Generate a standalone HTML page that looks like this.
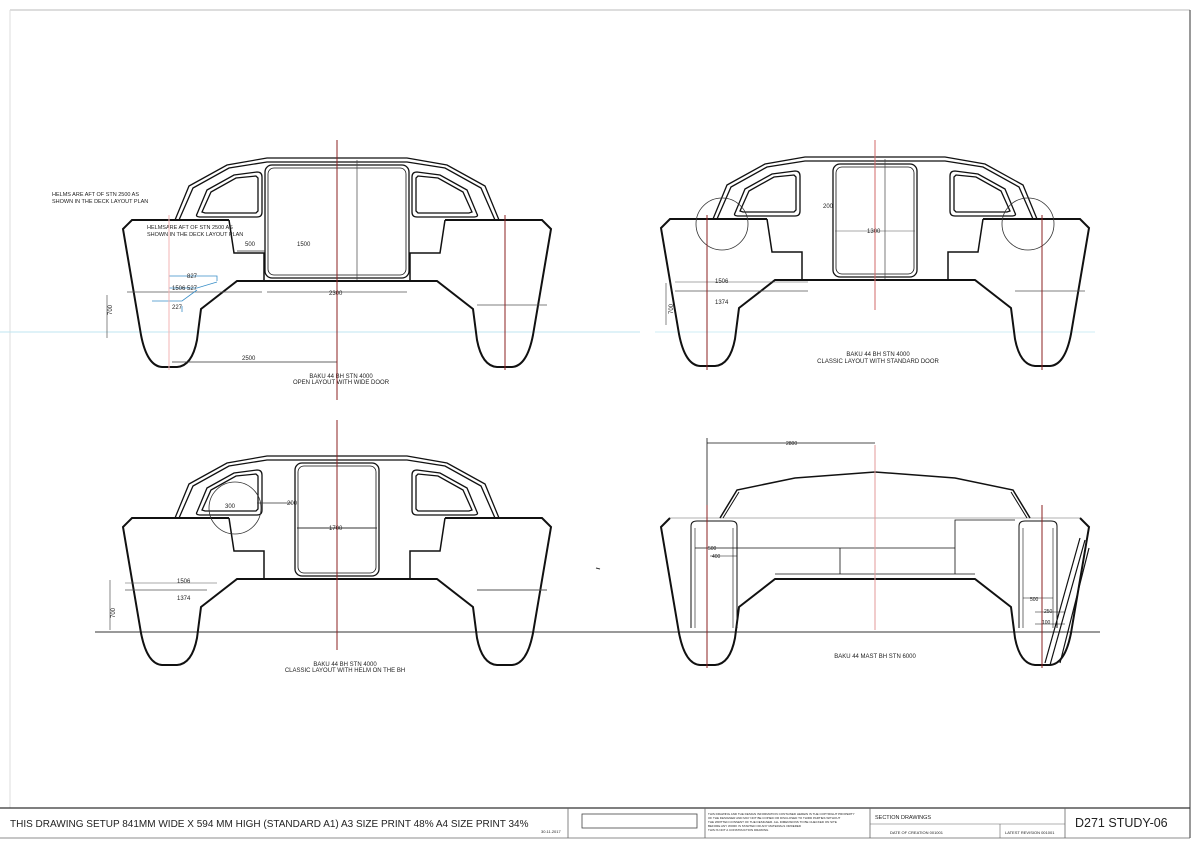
<!DOCTYPE html>
<html><head><meta charset="utf-8"><style>
html,body{margin:0;padding:0;background:#fff;}
svg{display:block;}
text{font-family:"Liberation Sans",sans-serif;fill:#222;}
</style></head><body>
<svg width="1200" height="843" viewBox="0 0 1200 843" xmlns="http://www.w3.org/2000/svg">
<defs>
<g id="hull" fill="none" stroke="#111" stroke-width="2">
  <path d="M -108 0 L -205 0 L -214 9 L -196 115 Q -190 146 -175 147 L -160 147 Q -145 146 -140 120 L -136 89 L -100 61 L 100 61 L 136 89 L 140 120 Q 145 146 160 147 L 175 147 Q 190 146 196 115 L 214 9 L 205 0 L 108 0"/>
  <path d="M -108 0 L -103 33 L -73 33 L -73 61 M 108 0 L 103 33 L 73 33 L 73 61" stroke-width="1.5"/>
</g>
<g id="cabin" fill="none" stroke="#111" stroke-width="1.3">
  <path d="M -162 0 L -148 -34 L -110 -55 L -70 -62 L 70 -62 L 110 -55 L 148 -34 L 162 0"/>
  <path d="M -158 0 L -144 -32 L -108 -52 L -70 -58 L 70 -58 L 108 -52 L 144 -32 L 158 0"/>
  <path d="M -140 -6 L -130 -30 L -103 -45 L -80 -48 Q -75 -48 -75 -43 L -75 -8 Q -75 -3 -80 -3 L -136 -3 Q -142 -3 -140 -6 Z"/>
  <path d="M -135 -8 L -126 -28 L -101 -42 L -81 -44 L -79 -42 L -79 -9 L -81 -7 L -132 -7 Z"/>
  <path d="M 140 -6 L 130 -30 L 103 -45 L 80 -48 Q 75 -48 75 -43 L 75 -8 Q 75 -3 80 -3 L 136 -3 Q 142 -3 140 -6 Z"/>
  <path d="M 135 -8 L 126 -28 L 101 -42 L 81 -44 L 79 -42 L 79 -9 L 81 -7 L 132 -7 Z"/>
</g>
</defs>

<line x1="10" y1="10" x2="1190" y2="10" stroke="#bbb" stroke-width="1"/>
<line x1="1190" y1="10" x2="1190" y2="838" stroke="#333" stroke-width="1"/>
<line x1="10" y1="10" x2="10" y2="808" stroke="#ddd" stroke-width="1"/>

<line x1="0" y1="332" x2="640" y2="332" stroke="#bfe6f0" stroke-width="1"/>
<line x1="655" y1="332" x2="1095" y2="332" stroke="#cfeef5" stroke-width="1"/>
<line x1="95" y1="632" x2="1100" y2="632" stroke="#333" stroke-width="1"/>

<!-- TL -->
<g transform="translate(337,220)">
  <use href="#hull"/>
  <use href="#cabin"/>
  <rect x="-72" y="-55" width="144" height="113" rx="7" fill="none" stroke="#111" stroke-width="1.3"/>
  <rect x="-69" y="-52" width="138" height="107" rx="6" fill="none" stroke="#111" stroke-width="0.8"/>
  <line x1="-210" y1="72" x2="-75" y2="72" stroke="#555" stroke-width="0.8"/>
  <line x1="140" y1="85" x2="210" y2="85" stroke="#555" stroke-width="0.8"/>
  <line x1="-70" y1="72" x2="70" y2="72" stroke="#555" stroke-width="0.8"/>
  <line x1="20" y1="-60" x2="20" y2="60" stroke="#444" stroke-width="0.7"/>
  <line x1="-165" y1="142" x2="0" y2="142" stroke="#333" stroke-width="0.8"/>
  <line x1="-230" y1="75" x2="-230" y2="118" stroke="#555" stroke-width="0.7"/>
  <line x1="-100" y1="31" x2="-72" y2="31" stroke="#333" stroke-width="0.8"/>
  <g stroke="#3a8fc8" stroke-width="0.8" fill="none">
    <path d="M -168 56 L -120 56 L -120 61"/><path d="M -168 68 L -140 68 L -120 62"/><path d="M -185 81 L -155 81 L -140 70"/><path d="M -155 86 L -155 92"/>
  </g>
  <text x="-92" y="26" font-size="6">500</text>
  <text x="-40" y="26" font-size="6">1500</text>
  <text x="-8" y="75" font-size="6">2300</text>
  <text x="-95" y="140" font-size="6">2500</text>
  <text x="-165" y="70" font-size="6">1506</text>
  <text x="-150" y="58" font-size="6" fill="#3a8fc8">827</text>
  <text x="-150" y="70" font-size="6" fill="#3a8fc8">527</text>
  <text x="-165" y="89" font-size="6" fill="#3a8fc8">227</text>
  <text x="-225" y="95" font-size="6" transform="rotate(-90 -225 95)">700</text>
  <text x="-190" y="9" font-size="5.5">HELMSARE AFT OF STN 2500 AS</text>
  <text x="-190" y="16" font-size="5.5">SHOWN IN THE DECK LAYOUT PLAN</text>
</g>
<text x="52" y="196" font-size="5.5">HELMS ARE AFT OF STN 2500 AS</text>
<text x="52" y="203" font-size="5.5">SHOWN IN THE DECK LAYOUT PLAN</text>
<text x="341" y="378" font-size="6" text-anchor="middle">BAKU 44 BH STN 4000</text>
<text x="341" y="384" font-size="6" text-anchor="middle">OPEN LAYOUT WITH WIDE DOOR</text>
<line x1="337" y1="140" x2="337" y2="400" stroke="#8b2020" stroke-width="1"/>
<line x1="505" y1="215" x2="505" y2="370" stroke="#8b2020" stroke-width="1"/>
<line x1="169" y1="215" x2="169" y2="370" stroke="#f3b5b5" stroke-width="1"/>

<!-- TR -->
<g transform="translate(875,219)">
  <use href="#hull"/>
  <use href="#cabin"/>
  <rect x="-42" y="-55" width="84" height="113" rx="7" fill="none" stroke="#111" stroke-width="1.3"/>
  <rect x="-39" y="-52" width="78" height="107" rx="6" fill="none" stroke="#111" stroke-width="0.8"/>
  <circle cx="-153" cy="5" r="26" fill="none" stroke="#333" stroke-width="0.8"/>
  <circle cx="153" cy="5" r="26" fill="none" stroke="#333" stroke-width="0.8"/>
  <line x1="-200" y1="72" x2="-67" y2="72" stroke="#555" stroke-width="0.8"/>
  <line x1="-200" y1="63" x2="-67" y2="63" stroke="#555" stroke-width="0.6"/>
  <line x1="140" y1="72" x2="210" y2="72" stroke="#555" stroke-width="0.8"/>
  <line x1="-40" y1="12" x2="40" y2="12" stroke="#555" stroke-width="0.6"/>
  <line x1="10" y1="-60" x2="10" y2="60" stroke="#444" stroke-width="0.7"/>
  <line x1="-209" y1="64" x2="-209" y2="106" stroke="#555" stroke-width="0.7"/>
  <text x="-160" y="64" font-size="6">1506</text>
  <text x="-160" y="85" font-size="6">1374</text>
  <text x="-8" y="14" font-size="6">1300</text>
  <text x="-52" y="-11" font-size="6">200</text>
  <text x="-202" y="95" font-size="6" transform="rotate(-90 -202 95)">700</text>
</g>
<text x="878" y="356" font-size="6" text-anchor="middle">BAKU 44 BH STN 4000</text>
<text x="878" y="363" font-size="6" text-anchor="middle">CLASSIC LAYOUT WITH STANDARD DOOR</text>
<line x1="875" y1="140" x2="875" y2="310" stroke="#d26a6a" stroke-width="1"/>
<line x1="707" y1="215" x2="707" y2="370" stroke="#8b2020" stroke-width="1"/>
<line x1="1042" y1="215" x2="1042" y2="370" stroke="#8b2020" stroke-width="1"/>

<!-- BL -->
<g transform="translate(337,518)">
  <use href="#hull"/>
  <use href="#cabin"/>
  <rect x="-42" y="-55" width="84" height="113" rx="7" fill="none" stroke="#111" stroke-width="1.3"/>
  <rect x="-39" y="-52" width="78" height="107" rx="6" fill="none" stroke="#111" stroke-width="0.8"/>
  <circle cx="-102" cy="-10" r="26" fill="none" stroke="#333" stroke-width="0.8"/>
  <line x1="-80" y1="-15" x2="-45" y2="-15" stroke="#333" stroke-width="0.8"/>
  <line x1="-40" y1="10" x2="40" y2="10" stroke="#333" stroke-width="0.9"/>
  <line x1="-212" y1="72" x2="-130" y2="72" stroke="#555" stroke-width="0.8"/>
  <line x1="-212" y1="65" x2="-120" y2="65" stroke="#555" stroke-width="0.6"/>
  <line x1="140" y1="72" x2="210" y2="72" stroke="#555" stroke-width="1"/>
  <line x1="-227" y1="62" x2="-227" y2="112" stroke="#555" stroke-width="0.7"/>
  <text x="-112" y="-10" font-size="6">300</text>
  <text x="-50" y="-13" font-size="6">200</text>
  <text x="-8" y="12" font-size="6">1700</text>
  <text x="-160" y="65" font-size="6">1506</text>
  <text x="-160" y="82" font-size="6">1374</text>
  <text x="-222" y="100" font-size="6" transform="rotate(-90 -222 100)">700</text>
</g>
<text x="345" y="666" font-size="6" text-anchor="middle">BAKU 44 BH STN 4000</text>
<text x="345" y="672" font-size="6" text-anchor="middle">CLASSIC LAYOUT WITH HELM ON THE BH</text>
<line x1="337" y1="420" x2="337" y2="650" stroke="#8b2020" stroke-width="1"/>
<line x1="596" y1="568" x2="600" y2="569" stroke="#333" stroke-width="1"/>

<!-- BR -->
<g transform="translate(875,518)" fill="none" stroke="#111">
  <path d="M -205 0 L -214 9 L -196 115 Q -190 146 -175 147 L -160 147 Q -145 146 -140 120 L -136 89 L -100 61 L 100 61 L 136 89 L 140 120 Q 145 146 160 147 L 175 147 Q 190 146 196 115 L 214 9 L 205 0" stroke-width="2"/>
  <line x1="-205" y1="0" x2="205" y2="0" stroke="#999" stroke-width="0.8"/>
  <path d="M -155 0 L -138 -28 L -80 -40 L 0 -46 L 80 -40 L 138 -28 L 155 0" stroke-width="1.5"/>
  <path d="M -152 0 L -136 -26 M 152 0 L 136 -26" stroke-width="1"/>
  <path d="M -184 110 L -184 8 Q -184 3 -178 3 L -144 3 Q -138 3 -138 8 L -138 110" stroke-width="1"/>
  <path d="M -180 110 L -180 10 M -142 10 L -142 110" stroke-width="0.6"/>
  <path d="M 144 110 L 144 8 Q 144 3 150 3 L 176 3 Q 182 3 182 8 L 182 110" stroke-width="1"/>
  <path d="M 148 110 L 148 10 M 178 10 L 178 110" stroke-width="0.6"/>
  <path d="M 205 20 L 170 145 M 210 22 L 175 147 M 214 30 L 185 145" stroke-width="1.2"/>
  <line x1="-180" y1="30" x2="80" y2="30" stroke-width="0.8"/>
  <line x1="-100" y1="56" x2="100" y2="56" stroke-width="0.8"/>
  <line x1="-35" y1="30" x2="-35" y2="56" stroke-width="0.8"/>
  <path d="M 80 56 L 80 2 L 140 2" stroke-width="0.8"/>
  <line x1="-168" y1="-75" x2="0" y2="-75" stroke-width="0.8"/>
  <line x1="-168" y1="-80" x2="-168" y2="-2" stroke-width="0.8"/>
  <line x1="-165" y1="38" x2="-138" y2="38" stroke-width="0.6"/>
  <line x1="148" y1="80" x2="178" y2="80" stroke-width="0.6"/>
  <line x1="160" y1="94" x2="190" y2="94" stroke-width="0.6"/>
  <line x1="160" y1="106" x2="190" y2="106" stroke-width="0.6"/>
</g>
<g font-size="5">
<text x="786" y="445">2800</text>
<text x="708" y="550">500</text>
<text x="712" y="558">400</text>
<text x="1030" y="601">500</text>
<text x="1044" y="613">250</text>
<text x="1042" y="624">100</text>
</g>
<text x="875" y="658" font-size="6" text-anchor="middle">BAKU 44 MAST BH STN 6000</text>
<line x1="875" y1="445" x2="875" y2="630" stroke="#e39a9a" stroke-width="1"/>
<line x1="707" y1="505" x2="707" y2="668" stroke="#8b2020" stroke-width="1"/>
<line x1="1042" y1="505" x2="1042" y2="668" stroke="#8b2020" stroke-width="1"/>

<!-- title block -->
<line x1="0" y1="808" x2="1190" y2="808" stroke="#333" stroke-width="1.2"/>
<line x1="0" y1="838" x2="1190" y2="838" stroke="#666" stroke-width="0.8"/>
<line x1="568" y1="808" x2="568" y2="838" stroke="#666" stroke-width="0.8"/>
<line x1="705" y1="808" x2="705" y2="838" stroke="#666" stroke-width="0.8"/>
<line x1="870" y1="808" x2="870" y2="838" stroke="#666" stroke-width="0.8"/>
<line x1="1065" y1="808" x2="1065" y2="838" stroke="#666" stroke-width="0.8"/>
<line x1="870" y1="824" x2="1065" y2="824" stroke="#666" stroke-width="0.6"/>
<line x1="1000" y1="824" x2="1000" y2="838" stroke="#666" stroke-width="0.6"/>
<rect x="582" y="814" width="115" height="14" fill="none" stroke="#444" stroke-width="0.8"/>
<text x="10" y="827" font-size="10">THIS DRAWING SETUP 841MM WIDE X 594 MM HIGH (STANDARD A1) A3 SIZE PRINT 48% A4 SIZE PRINT 34%</text>
<text x="541" y="833" font-size="4">30.11.2017</text>
<g font-size="3" fill="#555">
<text x="708" y="815">THIS DRAWING AND THE DESIGN INFORMATION CONTAINED HEREIN IS THE COPYRIGHT PROPERTY</text>
<text x="708" y="819">OF THE DESIGNER AND MAY NOT BE COPIED OR DISCLOSED TO THIRD PARTIES WITHOUT</text>
<text x="708" y="823">THE WRITTEN CONSENT OF THE DESIGNER. ALL DIMENSIONS TO BE CHECKED ON SITE</text>
<text x="708" y="827">BEFORE ANY WORK IS STARTED OR ANY MATERIALS ORDERED</text>
<text x="708" y="831">THIS IS NOT A CONSTRUCTION DRAWING</text>
</g>
<text x="875" y="819" font-size="5.5">SECTION DRAWINGS</text>
<text x="890" y="834" font-size="4">DATE OF CREATION 001001</text>
<text x="1005" y="834" font-size="4">LATEST REVISION 001001</text>
<text x="1075" y="827" font-size="12.5">D271 STUDY-06</text>
</svg>
</body></html>
